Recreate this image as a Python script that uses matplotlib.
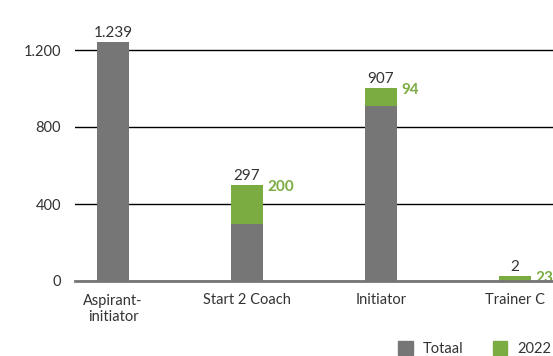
import matplotlib.pyplot as plt
from matplotlib.patches import Patch

plt.rcParams['font.family'] = ['Lato', 'DejaVu Sans']

categories = ['Aspirant-\ninitiator', 'Start 2 Coach', 'Initiator', 'Trainer C']
totaal = [1239, 297, 907, 2]
nieuw_2022 = [0, 200, 94, 23]
yticks = [0, 400, 800, 1200]
ytick_labels = ['0', '400', '800', '1.200']

GRAY = '#767676'
GREEN = '#7aac42'

fig = plt.figure(figsize=(5.53, 3.56), dpi=100)
W, H = 553, 356
# axes spans from x=75px to the right edge, zero line at y=281px
ax = fig.add_axes([75 / W, 75 / H, (553 - 75) / W, (346 - 75) / H])

x = list(range(len(categories)))
bw = 0.24
ax.bar(x, totaal, width=bw, color=GRAY, zorder=3)
ax.bar(x, nieuw_2022, width=bw, bottom=totaal, color=GREEN, zorder=3)

for i in x:
    top = totaal[i] + nieuw_2022[i]
    lbl = f'{totaal[i]:,}'.replace(',', '.')
    ax.text(i, top + 12, lbl, ha='center', va='bottom', fontsize=11, color='#333333')
    if nieuw_2022[i]:
        ax.text(i + bw / 2 + 0.03, top - 10, str(nieuw_2022[i]), ha='left', va='center',
                fontsize=11, fontweight='bold', color=GREEN)

ax.set_xlim(-0.284, 3.284)
ax.set_ylim(0, 271 / (231 / 1200))
ax.set_yticks(yticks)
ax.set_yticklabels(ytick_labels)
ax.set_xticks(x)
ax.set_xticklabels(categories)
ax.tick_params(axis='both', length=0, labelsize=10.5, labelcolor='#333333')
ax.tick_params(axis='y', pad=10)
ax.tick_params(axis='x', pad=9)
ax.grid(axis='y', color='black', linewidth=1, zorder=1)
for s in ['top', 'right', 'left']:
    ax.spines[s].set_visible(False)
ax.spines['bottom'].set_color(GRAY)
ax.spines['bottom'].set_linewidth(2)
ax.spines['bottom'].set_zorder(4)

handles = [Patch(color=GRAY, label='Totaal'), Patch(color=GREEN, label='2022')]
fig.legend(handles=handles, loc='lower left', bbox_to_anchor=(398 / W, 0),
           ncol=2, frameon=False, borderpad=0, borderaxespad=0,
           handlelength=1.0, handleheight=1.0,
           handletextpad=0.7, columnspacing=2.0, fontsize=10.5,
           labelcolor='#333333')

fig.savefig('out.png', dpi=100)
